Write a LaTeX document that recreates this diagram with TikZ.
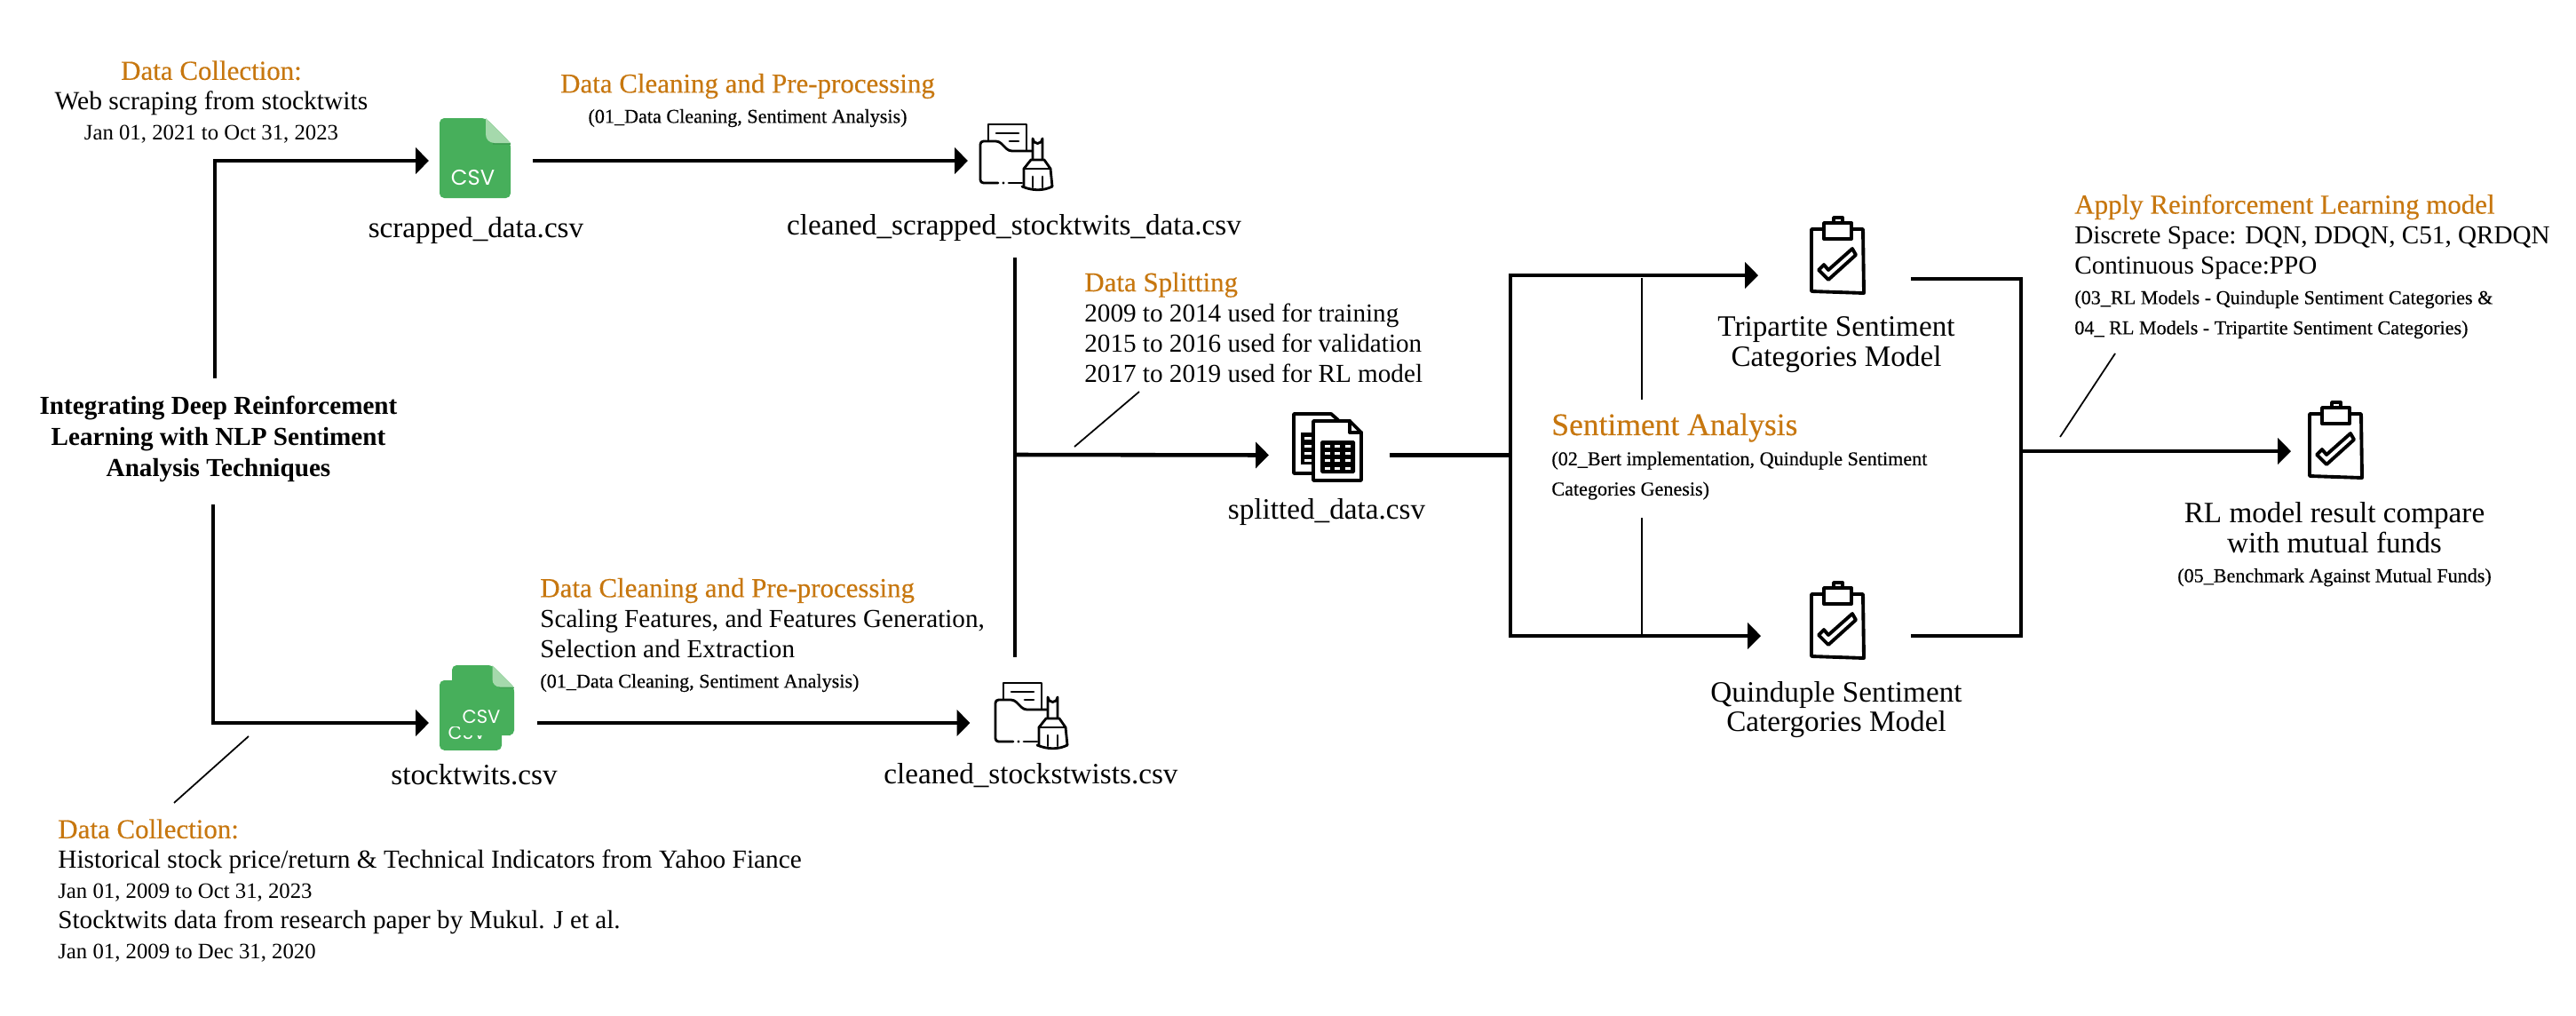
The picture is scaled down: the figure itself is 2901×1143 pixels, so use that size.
\documentclass[tikz,border=0pt]{standalone}
\usepackage{fontspec}
\setmainfont{Liberation Serif}
\newfontfamily\csvfont{Poppins}
\usetikzlibrary{arrows.meta}

\definecolor{headcol}{HTML}{C7770F}
\definecolor{csvgreen}{HTML}{47AF5B}
\definecolor{csvfold}{HTML}{A5D9AC}
\definecolor{csvshade}{HTML}{3F9E52}

\newcommand{\headtxt}[1]{{\addfontfeature{FakeBold=0.3}\color{headcol}#1}}
\newcommand{\bigtxt}[1]{{\fontsize{17.6}{19.33}\selectfont #1}}
\newcommand{\datetxt}[1]{{\fontsize{14.1}{19.33}\selectfont #1}}
\newcommand{\reftxt}[1]{{\addfontfeature{FakeBold=0.3}\fontsize{12.6}{19.33}\selectfont #1}}

\tikzset{
  txt/.style={inner sep=0pt,font=\fontsize{16.6}{19.33}\selectfont},
  blockleft/.style={txt,anchor=west,align=left},
  blockmid/.style={txt,align=center},
  filename/.style={inner sep=0pt,align=center,font=\fontsize{18.9}{19}\selectfont},
  iconbox/.style={inner sep=0pt,outer sep=0pt,minimum height=1.8cm},
  csvword/.style={inner sep=0pt,text=white,font=\csvfont\fontsize{12}{14}\selectfont},
  flowline/.style={line width=2.6pt},
  flowarrow/.style={flowline,-{Triangle[length=8.5pt,width=16.5pt]}},
  noteline/.style={line width=1pt},
  iconline/.style={line width=2.2pt,line join=round,line cap=round},
  cleanline/.style={line width=1.6pt,line join=round,line cap=round},
  csvpage/.pic={
    \fill[csvgreen,rounded corners=3pt] (0,0) -- (52,0) -- (80,28) -- (80,90) -- (0,90) -- cycle;
    \fill[csvshade] (60,28) -- (80,28) -- (80,30) -- (60,30) -- cycle;
    \fill[csvfold] (52,0) -- (80,28) -- (62,28) .. controls (56,28) and (52,24) .. (52,18) -- cycle;
  },
  cleanicon/.pic={
    \draw[cleanline] (10,19) -- (10,1) -- (53,1) -- (53,30);
    \draw[cleanline] (19,11) -- (44,11);
    \draw[cleanline] (34,20) -- (44,20);
    \draw[cleanline,rounded corners=2pt] (21,67) -- (1,67) -- (1,20) -- (22,20) -- (33,31) -- (60,31);
    \draw[cleanline] (33,67) -- (48,67);
    \fill (27,67) circle (1.6);
    \draw[cleanline,fill=white] (60,41) -- (60,17) arc (180:0:5.5) -- (71,41);
    \draw[cleanline,fill=white] (50,71) -- (50,51) -- (58,41) -- (73,41) -- (80,51) -- (82,71);
    \draw[cleanline] (50,51) -- (80,51);
    \draw[cleanline] (48,71) .. controls (60,76) and (72,76) .. (82,71);
    \draw[cleanline] (60,60) -- (60,72);
    \draw[cleanline] (71,60) -- (71,72);
  },
  sheeticon/.pic={
    \draw[iconline] (22,68) -- (1,68) -- (1,1) -- (43,1) -- (51,8);
    \fill (9,22) rectangle (24,58);
    \foreach \yrow in {28,37,45,53} {\fill[white] (13,\yrow-1.5) rectangle (22,\yrow+1.5);}
    \draw[iconline,fill=white] (23,9) -- (64,9) -- (77,22) -- (77,76) -- (23,76) -- cycle;
    \draw[iconline] (64,9) -- (64,22) -- (77,22);
    \fill[rounded corners=1pt] (31,31) rectangle (70,68);
    \foreach \yrow in {37,45,53,62} {
      \foreach \xcol in {39,50,62} {\fill[white] (\xcol-3,\yrow-1.5) rectangle (\xcol+3,\yrow+1.5);}
    }
  },
  clipicon/.pic={
    \draw[iconline] (2,15) -- (60,15) -- (61,87) -- (2,85) -- cycle;
    \draw[iconline] (27,8) -- (27,2) -- (37,2) -- (37,8);
    \draw[iconline,fill=white] (16,8) -- (47,8) -- (47,26) -- (16,26) -- cycle;
    \draw[iconline] (10,61) -- (21,72) -- (52,44) -- (48,37) -- (21,61) -- (16,55) -- cycle;
  }
}

\begin{document}
\begin{tikzpicture}[x=0.02cm,y=-0.02cm]
\useasboundingbox (0,0) rectangle (2901,1143);

% left column
\node[blockmid] (dctop) at (238,115) {\bigtxt{\headtxt{Data Collection:}}\\{\fontsize{16.8}{19.33}\selectfont Web scraping from stocktwits}\\\datetxt{Jan 01, 2021 to Oct 31, 2023}};
\node[blockmid,font=\bfseries\fontsize{16.6}{19.9}\selectfont] (title) at (246,494) {Integrating Deep Reinforcement\\Learning with NLP Sentiment\\Analysis Techniques};
\node[blockleft] (dcbot) at (65,1003) {\bigtxt{\headtxt{Data Collection:}}\\{\fontsize{16.7}{19.33}\selectfont Historical stock price/return \& Technical Indicators from Yahoo Fiance}\\\datetxt{Jan 01, 2009 to Oct 31, 2023}\\Stocktwits data from research paper by Mukul. J et al.\\\datetxt{Jan 01, 2009 to Dec 31, 2020}};
\coordinate (titletop) at (242,426);
\coordinate (titlebot) at (240,568);
\coordinate (dcnotea) at (280,829);
\coordinate (dcnoteb) at (196,904);

% csv files
\node[iconbox,minimum width=2.34cm] (scrapped) at (541.5,181) {};
\pic at (495,133) {csvpage};
\node[csvword,font=\csvfont\fontsize{13.8}{14}\selectfont] (scrappedword) at (532.5,200.5) {CSV};
\node[filename] (scrappedname) at (536,260) {scrapped\_data.csv};

\node[iconbox,minimum width=2.44cm] (stocktwits) at (544,814) {};
\pic[scale=.875] at (495,766) {csvpage};
\pic[scale=.875] at (509,749) {csvpage};
\node[csvword] (stockwordb) at (526,825) {CSV};
\fill[csvgreen] (509,795) -- (575,795) -- (575,828) -- (518,828) -- (518,818) -- (509,818) -- cycle;
\node[csvword] (stockworda) at (542,807) {CSV};
\node[filename] (stockname) at (534,872) {stocktwits.csv};

% cleaning
\node[blockmid] (cleantext) at (842,113) {\bigtxt{\headtxt{Data Cleaning and Pre-processing}}\\\reftxt{(01\_Data Cleaning, Sentiment Analysis)}};
\node[blockleft] (scaletext) at (608,715) {\bigtxt{\headtxt{Data Cleaning and Pre-processing}}\\Scaling Features, and Features Generation,\\Selection and Extraction\\\reftxt{(01\_Data Cleaning, Sentiment Analysis)}};

\node[iconbox,minimum width=2.12cm,minimum height=4.36cm] (cleanedtop) at (1143,181) {};
\pic at (1103,139) {cleanicon};
\node[filename] (cleanedtopname) at (1142,257) {cleaned\_scrapped\_stocktwits\_data.csv};
\node[iconbox,minimum width=2.02cm,minimum height=2.96cm] (cleanedbot) at (1143,814) {};
\pic at (1120,768) {cleanicon};
\node[filename] (cleanedbotname) at (1161,873) {cleaned\_stockstwists.csv};
\coordinate (splitjoin) at (1143,512);

% splitting
\node[blockleft] (splittext) at (1221,368.5) {\bigtxt{\headtxt{Data Splitting}}\\2009 to 2014 used for training\\2015 to 2016 used for validation\\2017 to 2019 used for RL model};
\coordinate (splitnotea) at (1283,441);
\coordinate (splitnoteb) at (1210,503);
\node[iconbox,minimum width=2.72cm] (splitted) at (1497,512.5) {};
\pic at (1456,465) {sheeticon};
\node[filename] (splittedname) at (1494,577) {splitted\_data.csv};
\coordinate (sentjoin) at (1701,512.5);

% sentiment
\node[blockleft] (senttext) at (1747,514) {\headtxt{\fontsize{20.2}{19.33}\selectfont Sentiment Analysis}\\\reftxt{(02\_Bert implementation, Quinduple Sentiment}\\\reftxt{Categories Genesis)}};
\coordinate (sentnotea) at (1849,313);
\coordinate (sentnoteb) at (1849,450);
\coordinate (sentnotec) at (1849,583);
\coordinate (sentnoted) at (1849,716);

\node[iconbox,minimum width=3.44cm] (tri) at (2066,310) {};
\pic at (2038,243) {clipicon};
\node[filename] (triname) at (2068,388) {Tripartite Sentiment\\Categories Model};
\coordinate (triout) at (2152,314);
\node[iconbox,minimum width=3.38cm] (quin) at (2067.5,716) {};
\pic at (2038,654) {clipicon};
\node[filename] (quinname) at (2068,799) {Quinduple Sentiment\\Catergories Model};

% RL model
\node[blockleft] (applytext) at (2336,300) {\bigtxt{\headtxt{Apply Reinforcement Learning model}}\\Discrete Space: DQN, DDQN, C51, QRDQN\\Continuous Space:PPO\\\reftxt{(03\_RL Models - Quinduple Sentiment Categories \&}\\\reftxt{04\_ RL Models - Tripartite Sentiment Categories)}};
\coordinate (rljoin) at (2276,508);
\coordinate (rlnotea) at (2382,398);
\coordinate (rlnoteb) at (2320,492);
\node[iconbox,minimum width=1.96cm] (rlresult) at (2629,508) {};
\pic at (2599,451) {clipicon};
\node[filename] (rlname) at (2629,613) {RL model result compare\\with mutual funds\\\reftxt{(05\_Benchmark Against Mutual Funds)}};

% connectors
\draw[flowarrow] (titletop) |- (scrapped.west);
\draw[flowarrow] (titlebot) |- (stocktwits.west);
\draw[flowarrow] (scrapped.east) -- (cleanedtop.west);
\draw[flowarrow] (stocktwits.east) -- (cleanedbot.west);
\draw[flowline] (cleanedtop.south) -- (cleanedbot.north);
\draw[flowarrow] (splitjoin) -- (splitted.west);
\draw[flowline] (splitted.east) -- (sentjoin);
\draw[flowarrow] (sentjoin) |- (tri.west);
\draw[flowarrow] (sentjoin) |- (quin.west);
\draw[flowline] (triout) -| (rljoin) |- (quin.east);
\draw[flowarrow] (rljoin) -- (rlresult.west);

\draw[noteline] (dcnotea) -- (dcnoteb);
\draw[noteline] (splitnotea) -- (splitnoteb);
\draw[noteline] (sentnotea) -- (sentnoteb);
\draw[noteline] (sentnotec) -- (sentnoted);
\draw[noteline] (rlnotea) -- (rlnoteb);
\end{tikzpicture}
\end{document}
